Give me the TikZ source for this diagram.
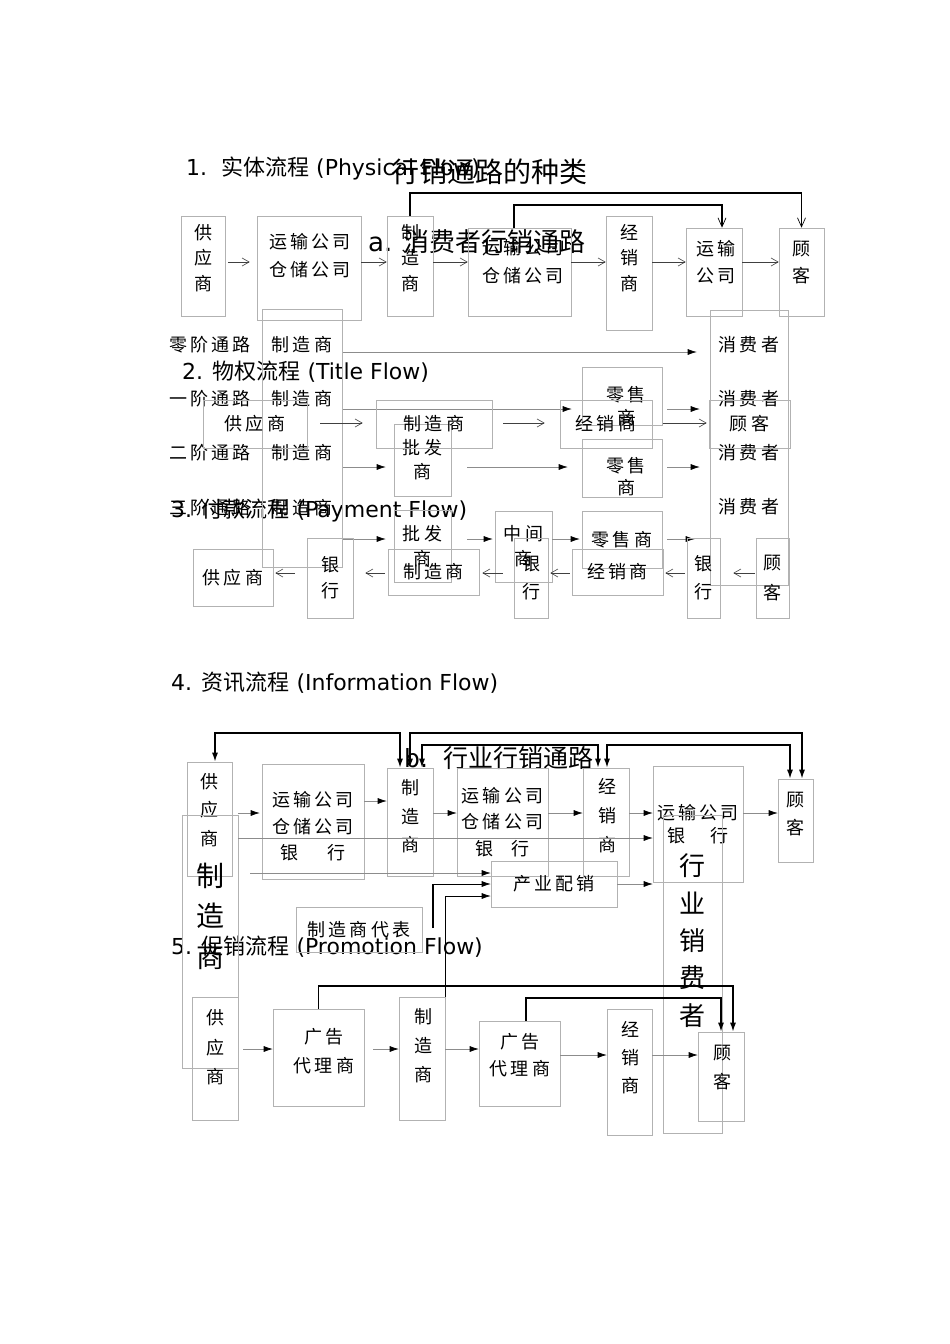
\documentclass[tikz,border=0pt]{standalone}
\usepackage{fontspec}
\setmainfont{DejaVu Sans}
\newfontfamily\cjk{Noto Sans CJK SC}
\newfontfamily\boxfont[LetterSpace=18]{Noto Sans CJK SC}
\usetikzlibrary{arrows.meta}
\tikzstyle{oarrow} = [draw=black!75,line width=0.6pt,-{Straight Barb[length=7pt,width=8pt]}]
\tikzstyle{farrow} = [draw=black!45,line width=0.6pt,-{Latex[length=9pt,width=6pt,color=black]}]
\tikzstyle{link} = [draw=black,line width=1.4pt]
\tikzstyle{linkarr} = [link,-{Latex[length=9pt,width=6pt]}]
\tikzstyle{linkdbl} = [link,{Latex[length=9pt,width=6pt]}-{Latex[length=9pt,width=6pt]}]
\tikzstyle{linkbarb} = [link,-{Straight Barb[length=9pt,width=8pt,line width=0.7pt]}]
\tikzset{box/.style 2 args={draw=black!30,line width=0.6pt,inner sep=0pt,minimum width=#1,minimum height=#2},
stack/.style 2 args={inner sep=0pt,align=center,font=\boxfont\fontsize{#1}{#2}\selectfont},
head/.style={inner sep=0pt,anchor=west,font=\fontsize{22}{26}\selectfont}}

\begin{document}
\begin{tikzpicture}[x=1pt,y=-1pt]
    \useasboundingbox (0,0) rectangle (950,1344);

    % row levels
    \coordinate (s1r) at (0,262);
    \coordinate (s1l1) at (0,193);
    \coordinate (s1l2) at (0,205);
    \coordinate (t0) at (0,352);
    \coordinate (t1) at (0,409);
    \coordinate (t2) at (0,467);
    \coordinate (t3) at (0,539);
    \coordinate (tf) at (0,423);
    \coordinate (pay) at (0,573);
    \coordinate (ilA) at (0,733);
    \coordinate (ilC) at (0,745);
    \coordinate (ib0) at (0,801);
    \coordinate (ib1) at (0,813);
    \coordinate (ib2) at (0,838);
    \coordinate (ib3) at (0,873);
    \coordinate (ib4) at (0,884);
    \coordinate (ib5) at (0,896);
    \coordinate (p5l1) at (0,986);
    \coordinate (p5l2) at (0,998);
    \coordinate (p5a) at (0,1049);
    \coordinate (p5b) at (0,1055);

    % headings
    \node[head] (hdr1) at (186,168) {1.\ \ {\cjk 实体流程} (Physical Flow)};
    \node[inner sep=0pt,font=\cjk\fontsize{28}{30}\selectfont] (title) at (489,172) {行销通路的种类};
    \node[head,font=\fontsize{26}{30}\selectfont] (suba) at (368,242) {a. {\cjk 消费者行销通路}};
    \node[head] (hdr2) at (182,372) {2. {\cjk 物权流程} (Title Flow)};
    \node[head] (hdr3) at (171,511) {3. {\cjk 付款流程} (Payment Flow)};
    \node[head] (hdr4) at (171,683) {4. {\cjk 资讯流程} (Information Flow)};
    \node[head,font=\fontsize{25}{30}\selectfont] (subb) at (404,758) {b.\ \ {\cjk 行业行销通路}};
    \node[head] (hdr5) at (171,947) {5. {\cjk 促销流程} (Promotion Flow)};

    % 1. physical flow
    \node[box={44}{100}] (s1sup) at (203,266) {};
    \node[stack={18}{25.5}] (s1supt) at (203,258) {供\\应\\商};
    \node[box={104}{104}] (s1tw) at (309,268) {};
    \node[stack={18}{28}] (s1twt) at (310,256) {运输公司\\仓储公司};
    \node[box={46}{100}] (s1mfr) at (410,266) {};
    \node[stack={18}{25.5}] (s1mfrt) at (410,258) {制\\造\\商};
    \node[box={103}{88}] (s1tw2) at (519.5,272) {};
    \node[stack={18}{28}] (s1tw2t) at (523,262) {运输公司\\仓储公司};
    \node[box={46}{114}] (s1dist) at (629,273) {};
    \node[stack={18}{25.5}] (s1distt) at (629,258) {经\\销\\商};
    \node[box={56}{88}] (s1trans) at (714,272) {};
    \node[stack={18}{27}] (s1transt) at (716,262.5) {运输\\公司};
    \node[box={45}{88}] (s1cust) at (801.5,272) {};
    \node[stack={18}{27}] (s1custt) at (801,262.5) {顾\\客};

    \draw[oarrow,shorten <=3pt,shorten >=7pt] (s1sup.east |- s1r) -- (s1tw.west |- s1r);
    \draw[oarrow] (s1tw.east |- s1r) -- (s1mfr.west |- s1r);
    \draw[oarrow] (s1mfr.east |- s1r) -- (s1tw2.west |- s1r);
    \draw[oarrow] (s1tw2.east |- s1r) -- (s1dist.west |- s1r);
    \draw[oarrow] (s1dist.east |- s1r) -- (s1trans.west |- s1r);
    \draw[oarrow] (s1trans.east |- s1r) -- (s1cust.west |- s1r);
    \coordinate (s1tw2up) at ([xshift=-5.5pt]s1tw2.north);
    \coordinate (s1transin) at ([xshift=8pt]s1trans.north);
    \draw[linkbarb] (s1mfr.north) |- (s1l1 -| s1cust.north) -- (s1cust.north);
    \draw[linkbarb] (s1tw2up) |- (s1l2 -| s1transin) -- (s1transin);

    % channel levels
    \node[box={80}{258}] (lvlbox) at (302,438) {};
    \node[box={78}{275}] (conR) at (749,447.5) {};
    \node[stack={18}{26}] (lvl0) at (210,345) {零阶通路};
    \node[stack={18}{26}] (lvl0m) at (302,345) {制造商};
    \node[stack={18}{26}] (lvl1) at (210,399) {一阶通路};
    \node[stack={18}{26}] (lvl1m) at (302,399) {制造商};
    \node[stack={18}{26}] (lvl2) at (210,453) {二阶通路};
    \node[stack={18}{26}] (lvl2m) at (302,453) {制造商};
    \node[stack={18}{26}] (lvl3) at (210,508) {三阶通路};
    \node[stack={18}{26}] (lvl3m) at (302,508) {制造商};
    \node[stack={18}{26}] (con0) at (749,345) {消费者};
    \node[stack={18}{26}] (con1) at (749,399) {消费者};
    \node[stack={18}{26}] (con2) at (749,453) {消费者};
    \node[stack={18}{26}] (con3) at (749,507) {消费者};
    \node[box={80}{58}] (ret1) at (622,396) {};
    \node[stack={18}{23}] (ret1t) at (626,406) {零售\\商};
    \node[box={80}{58}] (ret2) at (622,468) {};
    \node[stack={18}{22}] (ret2t) at (626,477) {零售\\商};
    \node[box={57}{72},stack={18}{24}] (wh2) at (422.5,460) {批发\\商};
    \node[box={57}{72},stack={18}{25}] (wh3) at (422.5,546) {批发\\商};
    \node[box={57}{71},stack={18}{25}] (mid3) at (523.5,546.5) {中间\\商};
    \node[box={80}{57},stack={18}{26}] (ret3) at (622,539.5) {零售商};

    \draw[farrow,shorten <=11pt,shorten >=13pt] (lvl0m.east |- t0) -- (conR.west |- t0);
    \draw[farrow,shorten <=11pt,shorten >=10pt] (lvl1m.east |- t1) -- (ret1.west |- t1);
    \draw[farrow,shorten <=5pt,shorten >=10pt] (ret1.east |- t1) -- (conR.west |- t1);
    \draw[farrow,shorten <=11pt,shorten >=8pt] (lvl2m.east |- t2) -- (wh2.west |- t2);
    \draw[farrow,shorten <=16pt,shorten >=14pt] (wh2.east |- t2) -- (ret2.west |- t2);
    \draw[farrow,shorten <=5pt,shorten >=10pt] (ret2.east |- t2) -- (conR.west |- t2);
    \draw[farrow,shorten <=11pt,shorten >=8pt] (lvl3m.east |- t3) -- (wh3.west |- t3);
    \draw[farrow,shorten <=16pt,shorten >=2pt] (wh3.east |- t3) -- (mid3.west |- t3);
    \draw[farrow,shorten >=2pt] (mid3.east |- t3) -- (ret3.west |- t3);
    \draw[farrow,shorten <=5pt,shorten >=15pt] (ret3.east |- t3) -- (conR.west |- t3);

    % 2. title flow
    \node[box={104}{48},stack={18}{26}] (tsup) at (255,424) {供应商};
    \node[box={116}{48},stack={18}{26}] (tmfr) at (434,424) {制造商};
    \node[box={92}{48},stack={18}{26}] (tdist) at (606,424) {经销商};
    \node[box={81}{48},stack={18}{26}] (tcust) at (749.5,424) {顾客};
    \draw[oarrow,shorten <=13pt,shorten >=13pt] (tsup.east |- tf) -- (tmfr.west |- tf);
    \draw[oarrow,shorten <=11pt,shorten >=15pt] (tmfr.east |- tf) -- (tdist.west |- tf);
    \draw[oarrow,shorten <=11pt,shorten >=2pt] (tdist.east |- tf) -- (tcust.west |- tf);

    % 3. payment flow
    \node[box={80}{57},stack={18}{26}] (psup) at (233,577.5) {供应商};
    \node[box={46}{80},stack={18}{26}] (pbank1) at (330,578) {银\\行};
    \node[box={91}{46},stack={18}{26}] (pmfr) at (433.5,572) {制造商};
    \node[box={34}{80},stack={18}{28}] (pbank2) at (531,578) {银\\行};
    \node[box={91}{46},stack={18}{26}] (pdist) at (617.5,572) {经销商};
    \node[box={33}{80},stack={18}{28}] (pbank3) at (703.5,578) {银\\行};
    \node[box={33}{80},stack={18}{30}] (pcust) at (772.5,578) {顾\\客};
    \draw[oarrow,shorten <=12pt,shorten >=2pt] (pbank1.west |- pay) -- (psup.east |- pay);
    \draw[oarrow,shorten <=3pt,shorten >=12pt] (pmfr.west |- pay) -- (pbank1.east |- pay);
    \draw[oarrow,shorten <=11pt,shorten >=3pt] (pbank2.west |- pay) -- (pmfr.east |- pay);
    \draw[oarrow,shorten <=2pt,shorten >=2pt] (pdist.west |- pay) -- (pbank2.east |- pay);
    \draw[oarrow,shorten <=2pt,shorten >=2pt] (pbank3.west |- pay) -- (pdist.east |- pay);
    \draw[oarrow,shorten <=1pt,shorten >=13pt] (pcust.west |- pay) -- (pbank3.east |- pay);

    % 4. information flow
    \node[box={45}{114}] (isup) at (209.5,819) {};
    \node[stack={18}{28.5}] (isupt) at (209.5,810) {供\\应\\商};
    \node[box={102}{115}] (itw) at (313,821.5) {};
    \node[stack={18}{26.5}] (itwt) at (313,826.5) {运输公司\\仓储公司\\银\hspace{29pt}行};
    \node[box={46}{108}] (imfr) at (410,822) {};
    \node[stack={18}{28.5}] (imfrt) at (410,816.5) {制\\造\\商};
    \node[box={91}{108},stack={18}{26.5}] (itw2) at (502.5,822) {运输公司\\仓储公司\\银\hspace{19pt}行};
    \node[box={46}{108}] (idist) at (606,822) {};
    \node[stack={18}{29}] (idistt) at (607,816) {经\\销\\商};
    \node[box={90}{116},stack={18}{23}] (itb) at (698,824) {运输公司\\银\hspace{25pt}行};
    \node[box={35}{83}] (icust) at (795.5,820.5) {};
    \node[stack={18}{28}] (icustt) at (795.5,814) {顾\\客};
    \node[box={126}{46},stack={18}{26}] (iind) at (554,884) {产业配销};
    \node[box={126}{45},stack={18}{26}] (irep) at (359,929.5) {制造商代表};
    \node[box={56}{253}] (ibig) at (210,941.5) {};
    \node[stack={28}{40.5}] (ibigt) at (210,916) {制\\造\\商};
    \node[box={59}{318}] (icons) at (692.5,974) {};
    \node[stack={26}{37.3}] (iconst) at (692,940.5) {行\\业\\销\\费\\者};

    \draw[farrow,shorten <=6pt,shorten >=2pt] (isup.east |- ib1) -- (itw.west |- ib1);
    \draw[farrow] (itw.east |- ib0) -- (imfr.west |- ib0);
    \draw[farrow] (imfr.east |- ib1) -- (itw2.west |- ib1);
    \draw[farrow] (itw2.east |- ib1) -- (idist.west |- ib1);
    \draw[farrow] (idist.east |- ib1) -- (itb.west |- ib1);
    \draw[farrow] (itb.east |- ib1) -- (icust.west |- ib1);
    \draw[farrow] (ibig.east |- ib2) -- (itb.west |- ib2);
    \draw[farrow,shorten <=12pt] (ibig.east |- ib3) -- (iind.west |- ib3);
    \draw[farrow] (iind.east |- ib4) -- (itb.west |- ib4);
    \coordinate (irepout) at (433,928);
    \draw[link,line width=1.2pt] (irepout) -- (irepout |- ib4);
    \draw[farrow,draw=black] (irepout |- ib4) -- (iind.west |- ib4);

    \coordinate (isupA) at ([xshift=5.5pt]isup.north);
    \coordinate (imfrA) at ([xshift=-10pt]imfr.north);
    \coordinate (imfrC) at ([xshift=12pt]imfr.north);
    \coordinate (idistC) at ([xshift=-8pt]idist.north);
    \coordinate (idistD) at ([xshift=1pt]idist.north);
    \coordinate (icustB) at ([xshift=6.5pt]icust.north);
    \coordinate (icustD) at ([xshift=-5.5pt]icust.north);
    \draw[linkdbl] (isupA) |- (ilA -| imfrA) -- (imfrA);
    \draw[linkdbl] (imfr.north) |- (ilA -| icustB) -- (icustB);
    \draw[linkdbl] (imfrC) |- (ilC -| idistC) -- (idistC);
    \draw[linkdbl] (idistD) |- (ilC -| icustD) -- (icustD);

    % 5. promotion flow
    \node[box={46}{123}] (p5sup) at (215,1058.5) {};
    \node[stack={18}{29.5}] (p5supt) at (215,1047.5) {供\\应\\商};
    \node[box={91}{97}] (p5ad1) at (318.5,1057.5) {};
    \node[stack={18}{29}] (p5ad1t) at (324,1051.5) {广告\\代理商};
    \node[box={46}{123}] (p5mfr) at (422,1058.5) {};
    \node[stack={18}{29}] (p5mfrt) at (423,1046) {制\\造\\商};
    \node[box={81}{85}] (p5ad2) at (519.5,1063.5) {};
    \node[stack={18}{27}] (p5ad2t) at (520,1055.5) {广告\\代理商};
    \node[box={45}{126}] (p5dist) at (629.5,1072) {};
    \node[stack={18}{28}] (p5distt) at (630,1058) {经\\销\\商};
    \node[box={46}{89}] (p5cust) at (721,1076.5) {};
    \node[stack={18}{29}] (p5custt) at (722,1067.5) {顾\\客};

    \draw[farrow,shorten <=5pt] (p5sup.east |- p5a) -- (p5ad1.west |- p5a);
    \draw[farrow,shorten <=9pt] (p5ad1.east |- p5a) -- (p5mfr.west |- p5a);
    \draw[farrow] (p5mfr.east |- p5a) -- (p5ad2.west |- p5a);
    \draw[farrow] (p5ad2.east |- p5b) -- (p5dist.west |- p5b);
    \draw[farrow] (p5dist.east |- p5b) -- (p5cust.west |- p5b);
    \coordinate (p5ad2up) at ([xshift=6.5pt]p5ad2.north);
    \coordinate (p5custA) at ([xshift=12pt]p5cust.north);
    \draw[linkarr] (p5ad1.north) |- (p5l1 -| p5custA) -- (p5custA);
    \draw[linkarr] (p5ad2up) |- (p5l2 -| p5cust.north) -- (p5cust.north);
    \draw[link,line width=1.2pt] (p5mfr.north east) -- (p5mfr.north east |- ib5);
    \draw[farrow,draw=black] (p5mfr.north east |- ib5) -- (iind.west |- ib5);
\end{tikzpicture}
\end{document}
